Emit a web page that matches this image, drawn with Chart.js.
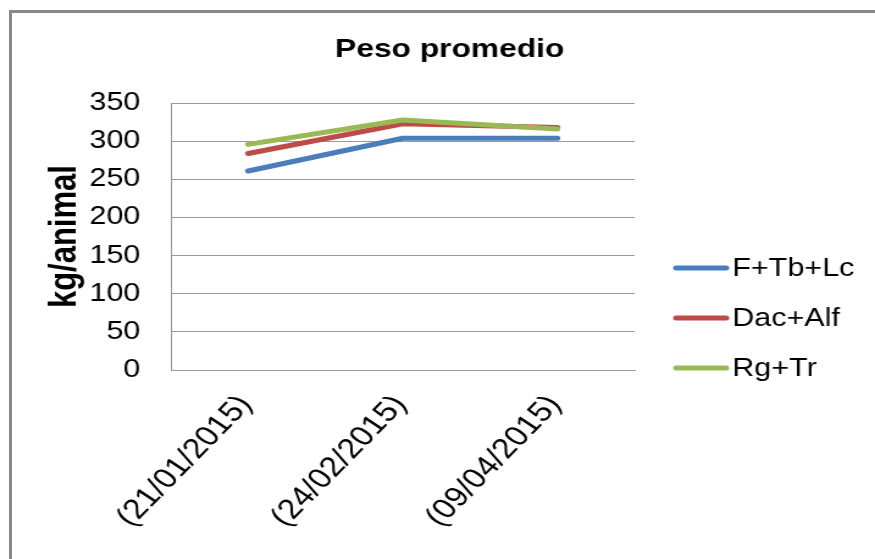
<!DOCTYPE html>
<html>
<head>
<meta charset="utf-8">
<script src="https://cdn.jsdelivr.net/npm/chart.js@4.4.1/dist/chart.umd.min.js"></script>
<style>
  html, body { margin: 0; padding: 0; background: #fff; overflow: hidden; }
  #frame {
    position: absolute; left: 9px; top: 10px; width: 1000px; height: 1000px;
    border-left: 3px solid #878787; border-top: 3px solid #878787;
  }
  /* the reference is stretched sideways, so draw narrow and scale */
  #chart { position: absolute; left: 0; top: 0; transform: scaleX(1.2204); transform-origin: 0 0; }
</style>
</head>
<body>
<div id="frame"></div>
<canvas id="chart" width="717" height="559"></canvas>
<script>
const dates = ["(21/01/2015)", "(24/02/2015)", "(09/04/2015)"];
const fTbLc = [261, 304, 304];
const dacAlf = [284, 323, 318];
const rgTr = [296, 328, 316];
const yTicks = [0, 50, 100, 150, 200, 250, 300, 350];

const FONT = "'Liberation Sans', Arial, sans-serif";
const GRID = "#9a9a9a";
Chart.defaults.font.family = FONT;
Chart.defaults.color = "#000";

// legend sits to the right of the plot, drawn by hand
const sideLegend = {
  id: "sideLegend",
  afterDraw(chart) {
    const ctx = chart.ctx;
    ctx.save();
    ctx.font = "25px " + FONT;
    ctx.textBaseline = "middle";
    chart.data.datasets.forEach((ds, i) => {
      const y = 268 + i * 50;
      ctx.strokeStyle = ds.borderColor;
      ctx.lineWidth = 5;
      ctx.lineCap = "round";
      ctx.beginPath();
      ctx.moveTo(554, y);
      ctx.lineTo(595, y);
      ctx.stroke();
      ctx.fillStyle = "#000";
      ctx.fillText(ds.label, 600, y + 1);
    });
    ctx.restore();
  },
};

const line = (label, data, color, order) => ({
  label,
  data,
  borderColor: color,
  backgroundColor: color,
  borderWidth: 5,
  borderCapStyle: "round",
  borderJoinStyle: "round",
  pointRadius: 0,
  tension: 0,
  order,
});

new Chart(document.getElementById("chart"), {
  type: "line",
  data: {
    labels: dates,
    datasets: [
      line("F+Tb+Lc", fTbLc, "#4a7ebb", 3),
      line("Dac+Alf", dacAlf, "#be4b48", 2),
      line("Rg+Tr", rgTr, "#98b954", 1),
    ],
  },
  options: {
    responsive: false,
    animation: false,
    layout: { padding: { left: 20, right: 0, top: 0, bottom: 0 } },
    plugins: {
      legend: { display: false },
      tooltip: { enabled: false },
      title: {
        display: true,
        text: "Peso promedio",
        color: "#000",
        font: { size: 26, weight: "bold" },
        padding: { top: 34, bottom: 38 },
      },
    },
    scales: {
      x: {
        offset: true,
        grid: { display: false, drawTicks: false },
        border: { display: true, color: GRID, width: 1 },
        ticks: {
          minRotation: 51,
          maxRotation: 51,
          padding: 19,
          labelOffset: -2,
          color: "#000",
          font: { size: 28 },
        },
        afterFit(scale) { scale.height = 189; },
      },
      y: {
        min: 0,
        max: 350,
        afterBuildTicks(scale) { scale.ticks = yTicks.map((v) => ({ value: v })); },
        grid: { color: GRID, lineWidth: 1, drawTicks: false },
        border: { display: true, color: GRID, width: 1 },
        ticks: { padding: 25, color: "#000", font: { size: 25 } },
        title: {
          display: true,
          text: "kg/animal",
          color: "#000",
          font: { size: 31, weight: "bold" },
          padding: { top: 15, bottom: 0 },
        },
        afterFit(scale) { scale.width = 120; },
      },
      yRight: {
        position: "right",
        display: true,
        grid: { display: false, drawTicks: false },
        border: { display: false },
        ticks: { display: false },
        afterFit(scale) { scale.width = 197; },
      },
    },
  },
  plugins: [sideLegend],
});
</script>
</body>
</html>
